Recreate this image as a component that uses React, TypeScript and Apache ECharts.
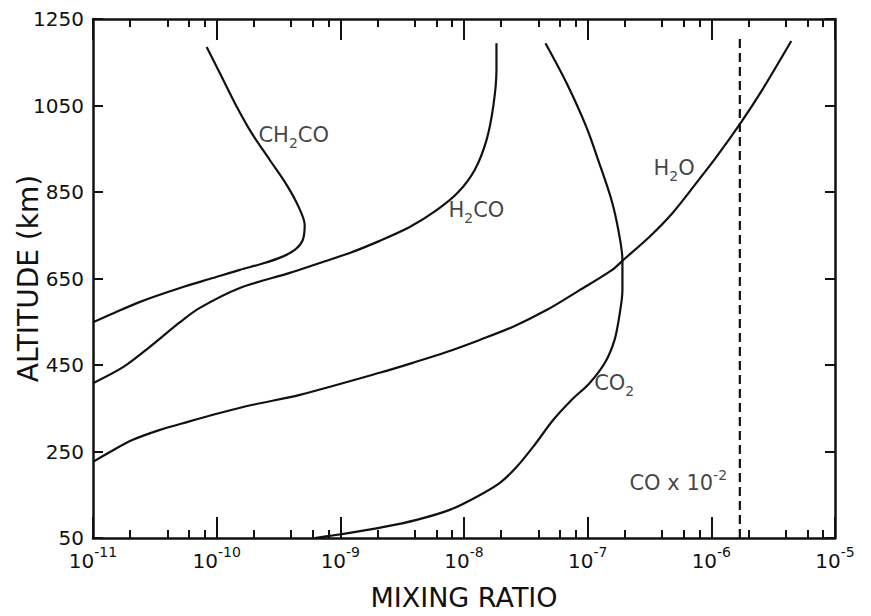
import React, { useEffect, useRef } from "react";
import * as echarts from "echarts";

// ---- axis data ----
const xMinExp = -11;
const xMaxExp = -5;
const minorMultipliers = [2, 4, 6, 8];
const altitudeTicks = [50, 250, 450, 650, 850, 1050, 1250];

// ---- series data (mixing ratio, altitude km) ----
const ch2coRatio = [8.3e-11, 1.06e-10, 1.4e-10, 1.92e-10, 2.69e-10, 3.69e-10, 4.61e-10, 5.15e-10, 4.97e-10, 4.28e-10, 3.37e-10, 2.32e-10, 1.54e-10, 9.3e-11, 5.05e-11, 2.4e-11, 1.37e-11, 1.0e-11];
const ch2coAlt = [1185, 1125, 1056, 986, 924, 866, 815, 774, 739, 716, 700, 684, 670, 651, 628, 596, 566, 549];

const h2coRatio = [1.83e-8, 1.83e-8, 1.73e-8, 1.52e-8, 1.22e-8, 8.88e-9, 6.01e-9, 3.64e-9, 2.08e-9, 1.19e-9, 6.82e-10, 3.9e-10, 1.54e-10, 7.31e-11, 5.05e-11, 2.88e-11, 1.75e-11, 1.0e-11];
const h2coAlt = [1194, 1132, 1051, 970, 901, 848, 808, 769, 737, 709, 686, 663, 628, 582, 549, 492, 445, 408];

const h2oRatio = [1.0e-11, 1.37e-11, 2.1e-11, 3.48e-11, 5.74e-11, 1.06e-10, 1.96e-10, 4.7e-10, 2.08e-9, 3.85e-9, 7.23e-9, 1.34e-8, 2.47e-8, 4.65e-8, 8.6e-8, 1.58e-7, 1.98e-7, 3.15e-7, 4.84e-7, 7.57e-7, 1.1e-6, 1.75e-6, 2.58e-6, 4.43e-6];
const h2oAlt = [226, 249, 277, 300, 318, 339, 358, 381, 432, 455, 480, 508, 538, 577, 623, 670, 695, 746, 801, 871, 931, 1012, 1086, 1199];

const co2Ratio = [4.56e-8, 6.75e-8, 9.77e-8, 1.24e-7, 1.56e-7, 1.77e-7, 1.91e-7, 1.91e-7, 1.81e-7, 1.65e-7, 1.39e-7, 1.035e-7, 7.4e-8, 5.2e-8, 3.72e-8, 2.66e-8, 1.94e-8, 1.26e-8, 7.66e-9, 4.14e-9, 2.2e-9, 1.19e-9, 6.2e-10];
const co2Alt = [1194, 1102, 1000, 917, 831, 762, 693, 623, 566, 508, 457, 408, 369, 321, 265, 214, 177, 145, 115, 92, 75, 62, 50];

const coRatio = [1.7e-6, 1.7e-6];
const coAlt = [50, 1208];

// ---- curve labels ----
const labelTexts = ["CH{sub|2}CO", "H{sub|2}CO", "H{sub|2}O", "CO{sub|2}", "CO x 10{sup|-2}"];
const labelRatio = [4.2e-10, 1.26e-8, 5.0e-7, 1.64e-7, 5.4e-7];
const labelAlt = [982, 808, 905, 408, 177];

const FONT = "DejaVu Sans";
const INK = "#111";

const toPts = (r: number[], a: number[]) => r.map((v, i) => [Math.log10(v), a[i]]);

export default function App() {
  const ref = useRef<HTMLDivElement>(null);
  useEffect(() => {
    if (!ref.current) return;
    const chart = echarts.init(ref.current, undefined, { renderer: "svg" });

    const minorTicks: number[] = [];
    for (let e = xMinExp; e < xMaxExp; e++) {
      minorMultipliers.forEach((m) => minorTicks.push(e + Math.log10(m)));
    }

    const lineSeries = (name: string, r: number[], a: number[], dashed = false) => ({
      name,
      type: "line",
      xAxisIndex: 0,
      yAxisIndex: 0,
      data: toPts(r, a),
      smooth: dashed ? false : 0.3,
      showSymbol: false,
      symbol: "none",
      silent: true,
      lineStyle: { color: INK, width: 2.2, type: dashed ? [9, 5] : "solid" },
    });

    const richLabel = {
      n: { fontFamily: FONT, fontSize: 21, color: INK, lineHeight: 22 },
      sub: { fontFamily: FONT, fontSize: 14, color: INK, height: 6, verticalAlign: "bottom" },
      sup: { fontFamily: FONT, fontSize: 14, color: INK, height: 5, verticalAlign: "top" },
    };

    const baseX = {
      type: "value",
      min: xMinExp,
      max: xMaxExp,
      interval: 1,
      splitLine: { show: false },
    };

    chart.setOption({
      animation: false,
      backgroundColor: "#fff",
      grid: [
        { left: 93, right: 36, top: 19, bottom: 78, outerBoundsMode: "none" },
        { left: 93, right: 36, top: 19, bottom: 78, outerBoundsMode: "none" },
      ],
      xAxis: [
        {
          ...baseX,
          gridIndex: 0,
          position: "bottom",
          axisLine: { show: true, lineStyle: { color: INK, width: 2.5 } },
          axisTick: { show: true, inside: true, length: 21, lineStyle: { color: INK, width: 2 } },
          axisLabel: {
            show: true,
            margin: 12,
            formatter: (v: number) => `{b|10}{s|${Math.round(v)}}`,
            rich: {
              b: { fontFamily: FONT, fontSize: 20, color: INK, lineHeight: 22 },
              s: { fontFamily: FONT, fontSize: 14, color: INK, height: 4, verticalAlign: "top" },
            },
          },
          name: "MIXING RATIO",
          nameLocation: "middle",
          nameGap: 46,
          nameMoveOverlap: false,
          nameTextStyle: { fontFamily: FONT, fontSize: 27, color: INK },
        },
        {
          ...baseX,
          gridIndex: 0,
          position: "top",
          axisLine: { show: true, lineStyle: { color: INK, width: 2.5 } },
          axisTick: { show: true, inside: true, length: 21, lineStyle: { color: INK, width: 2 } },
          axisLabel: { show: false },
        },
        {
          ...baseX,
          gridIndex: 1,
          position: "bottom",
          axisLine: { show: false },
          axisTick: { show: true, inside: true, length: 8, customValues: minorTicks, lineStyle: { color: INK, width: 2 } },
          axisLabel: { show: false },
        },
        {
          ...baseX,
          gridIndex: 1,
          position: "top",
          axisLine: { show: false },
          axisTick: { show: true, inside: true, length: 8, customValues: minorTicks, lineStyle: { color: INK, width: 2 } },
          axisLabel: { show: false },
        },
      ],
      yAxis: [
        {
          type: "value",
          gridIndex: 0,
          position: "left",
          min: 50,
          max: 1250,
          interval: 50,
          splitLine: { show: false },
          axisLine: { show: true, lineStyle: { color: INK, width: 2.5 } },
          axisTick: { show: true, inside: true, length: 10, customValues: altitudeTicks, lineStyle: { color: INK, width: 2 } },
          axisLabel: {
            show: true,
            customValues: altitudeTicks,
            margin: 9,
            formatter: (v: number) => String(v),
            fontFamily: FONT,
            fontSize: 20,
            color: INK,
          },
          name: "ALTITUDE (km)",
          nameLocation: "middle",
          nameGap: 51,
          nameMoveOverlap: false,
          nameRotate: 90,
          nameTextStyle: { fontFamily: FONT, fontSize: 28, color: INK },
        },
        {
          type: "value",
          gridIndex: 0,
          position: "right",
          min: 50,
          max: 1250,
          interval: 50,
          splitLine: { show: false },
          axisLine: { show: true, lineStyle: { color: INK, width: 2.5 } },
          axisTick: { show: true, inside: true, length: 10, customValues: altitudeTicks, lineStyle: { color: INK, width: 2 } },
          axisLabel: { show: false },
        },
        {
          type: "value",
          gridIndex: 1,
          min: 50,
          max: 1250,
          show: false,
        },
      ],
      series: [
        lineSeries("CH2CO", ch2coRatio, ch2coAlt),
        lineSeries("H2CO", h2coRatio, h2coAlt),
        lineSeries("H2O", h2oRatio, h2oAlt),
        lineSeries("CO2", co2Ratio, co2Alt),
        lineSeries("CO", coRatio, coAlt, true),
        {
          name: "labels",
          type: "scatter",
          xAxisIndex: 0,
          yAxisIndex: 0,
          silent: true,
          symbolSize: 1,
          itemStyle: { color: "rgba(0,0,0,0)" },
          data: labelTexts.map((t, i) => ({
            value: [Math.log10(labelRatio[i]), labelAlt[i]],
            label: {
              show: true,
              position: "inside",
              formatter: t.replace(/^([^{]+)/, "{n|$1}").replace(/\}([^{]+)/g, "}{n|$1}"),
              rich: richLabel,
            },
          })),
        },
      ],
    });
    return () => chart.dispose();
  }, []);
  return (
    <div
      ref={ref}
      style={{ position: "fixed", left: 0, top: 0, width: 871, height: 616, background: "#fff" }}
    />
  );
}
